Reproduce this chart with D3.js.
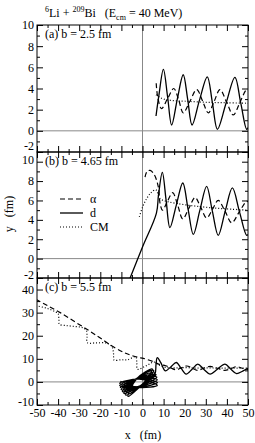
<!DOCTYPE html>
<html>
<head>
<meta charset="utf-8">
<script src="https://cdn.jsdelivr.net/npm/d3@7"></script>
<style>
  body { margin: 0; background: #fff; }
  text { font-family: "Liberation Serif", "Times New Roman", serif; }
</style>
</head>
<body>
<div id="chart"></div>
<script>
// x, y in fm
var alphaA = [[6.5,4.5],[7.2,3.2],[9,2.1],[11.8,3.0],[14.8,4.0],[17.2,2.9],[19.3,1.7],[22.5,2.8],[25.7,3.9],[28.5,2.8],[31.2,1.7],[34,2.8],[36.7,3.9],[39.9,2.7],[43,1.5],[46.2,2.7],[49.4,3.9],[50.5,3.8]];
var deutA = [[6.4,1.4],[7.8,3.4],[9.9,5.8],[11.9,3.2],[13.8,0.55],[16.5,3.0],[19.3,5.3],[21.4,3.0],[23.5,0.55],[27,2.9],[30.7,5.1],[33.1,2.7],[35.5,0.15],[39.6,2.6],[43.8,5.05],[46.6,2.6],[49.4,0.15],[50.5,0.5]];
var cmA = [[6.4,3.4],[8,3.2],[10,3.0],[15,2.85],[20,2.8],[30,2.7],[40,2.65],[50.5,2.6]];

var alphaB = [[1.2,8.4],[2.2,9.0],[3.6,9.1],[5.5,8.7],[7.5,7.4],[8.4,5.6],[9.5,5.0],[11.8,5.9],[14.3,6.8],[16.7,5.5],[19.1,4.1],[22,5.2],[24.9,6.3],[27.6,5.3],[30.4,4.2],[33.2,5.1],[35.9,6.0],[39.1,4.9],[42.3,3.7],[45.8,4.8],[49.4,5.9],[50.5,5.8]];
var deutB = [[-6.6,-2.4],[0,1.2],[6.6,4.7],[7.6,6.6],[9.4,8.9],[11.2,6.0],[13.0,3.2],[16,5.5],[19.1,7.8],[21.6,5.1],[24.1,2.5],[27.2,5.0],[30.4,7.45],[33.1,4.9],[35.9,2.4],[39.2,4.9],[42.6,7.3],[46,4.8],[49.4,2.4],[50.5,2.6]];
var cmB = [[-1.5,4.3],[0,5.3],[2,6.2],[4,6.8],[6.3,7.1],[8.3,6.2],[11.5,5.9],[16,5.7],[22,5.5],[28,5.35],[35,5.2],[42,5.1],[50.5,5.0]];

var alphaC = [[-50.5,35.8],[-45,33],[-39,30],[-32,26],[-25,22],[-20,19],[-14,15.3],[-9,12.8],[-6,11.7],[-2,10.6],[0.4,10.2],[5,8.8],[8,7.6],[11,7.0],[13.5,6.0],[16,5.3],[18.5,6.1],[21,6.9],[23.5,6],[26,5.0],[29,5.9],[32,6.7],[35.5,5.9],[39,5.0],[42,5.8],[44.6,6.6],[47.3,5.9],[50.5,5.2]];
// deuteron in (c): loops near the target (left tip, lower middle, right tip, upper middle), then exit
var deutC = [
  [-10.5,0.3],[-1.93,-2.38],[7,-1.5],[-1.57,1.18],
  [-10.8,-0.6],[-1.81,-2.25],[7.1,-0.3],[-1.89,1.35],
  [-10.8,-1.5],[-1.66,-2.08],[7,0.9],[-2.14,1.48],
  [-10.5,-2.4],[-1.4,-1.9],[6.8,2.1],[-2.3,1.6],
  [-10.1,-3.3],[-1.2,-1.7],[6.4,3.2],[-2.5,1.6],
  [-9.5,-4.2],[-0.94,-1.58],[5.9,4.2],[-2.66,1.58],
  [-8.8,-5.0],[-0.7,-1.48],[5.3,5.0],[-2.8,1.48],
  [-7.9,-5.7],[-0.44,-1.38],[4.6,5.6],[-2.86,1.28],
  [-6.8,-6.3],[-0.2,-1.3],[5.8,3.2],[6.4,7.5],[7.0,10.5],[8.6,8.5],[10.8,4.8],[13.5,6.6],[16,8.4],[18.3,5.9],[20.7,3.4],[23.5,5.5],[26.2,7.7],[29,5.5],[32,3.4],[35.5,5.5],[39.1,7.7],[41.8,5.6],[44.6,3.6],[47.5,4.7],[50.5,6.2]];
var cmC = [[-50.5,33],[-45,31.8],[-41.2,30.3],[-40,29.6],[-39.6,27],[-39.4,25],[-36,24.4],[-32,24],[-28.5,23.5],[-26.6,22.3],[-26.3,19.5],[-26.2,17],[-22,16.9],[-17,16.8],[-14.5,15.3],[-13.7,12],[-13.5,9.5],[-10,9.6],[-7,9.6],[-3.2,10.9],[-2.7,8],[-2.4,5.5],[0.5,6.4],[3,7.6],[5.5,8.6],[8,7.2],[11,6.3],[15,6.1],[20,6.2],[25,6.0],[30,6.1],[35,6.0],[40,6.0],[45,6.0],[50.5,6.0]];

// tick values
var xTickLabels = [-50,-40,-30,-20,-10,0,10,20,30,40,50];
var xMinorTicks = [-45,-35,-25,-15,-5,5,15,25,35,45];
var yTicksAB = [-2,0,2,4,6,8,10];
var yMinorAB = [-1,1,3,5,7,9];
var yTicksC = [-10,0,10,20,30,40];
var yMinorC = [-5,5,15,25,35];

var legendNames = ["\u03b1", "d", "CM"];

var svgWidth = 255;
var svgHeight = 443;
var plotLeft = 37;
var plotRight = 248;

var svg = d3.select("#chart")
  .append("svg")
  .attr("width", svgWidth)
  .attr("height", svgHeight);

var xScale = d3.scaleLinear().domain([-50, 50]).range([plotLeft, plotRight]);

var styles = {
  alpha: {w: 1.2, dash: "5,3"},
  d: {w: 1.3, dash: null},
  cm: {w: 1.2, dash: "1,2"}
};

var panels = [
  {top: 25, bottom: 152, domain: [-2, 10], ticks: yTicksAB, minor: yMinorAB, label: "(a) b = 2.5 fm", alpha: alphaA, d: deutA, cm: cmA},
  {top: 152, bottom: 278, domain: [-2, 11], ticks: yTicksAB, minor: yMinorAB, label: "(b) b = 4.65 fm", alpha: alphaB, d: deutB, cm: cmB},
  {top: 278, bottom: 405, domain: [-10, 45], ticks: yTicksC, minor: yMinorC, label: "(c) b = 5.5 fm", alpha: alphaC, d: deutC, cm: cmC}
];

// vertical x = 0 line through all panels
svg.append("line")
  .attr("x1", xScale(0)).attr("x2", xScale(0))
  .attr("y1", 25).attr("y2", 405)
  .attr("stroke", "#888").attr("stroke-width", 1);

panels.forEach(function(p, i) {
  var yScale = d3.scaleLinear().domain(p.domain).range([p.bottom, p.top]);
  var g = svg.append("g");

  g.append("clipPath").attr("id", "clip" + i)
    .append("rect")
    .attr("x", plotLeft).attr("y", p.top)
    .attr("width", plotRight - plotLeft).attr("height", p.bottom - p.top);

  // y = 0 line
  g.append("line")
    .attr("x1", plotLeft).attr("x2", plotRight)
    .attr("y1", yScale(0)).attr("y2", yScale(0))
    .attr("stroke", "#888").attr("stroke-width", 1);

  var line = d3.line()
    .x(d => xScale(d[0]))
    .y(d => yScale(d[1]))
    .curve(d3.curveCatmullRom.alpha(0.5));

  var plot = g.append("g").attr("clip-path", "url(#clip" + i + ")");
  ["cm", "alpha", "d"].forEach(function(key) {
    plot.append("path")
      .datum(p[key])
      .attr("d", line)
      .attr("fill", "none")
      .attr("stroke", "#000")
      .attr("stroke-width", styles[key].w)
      .attr("stroke-dasharray", styles[key].dash);
  });

  // x ticks, top and bottom, pointing inward
  g.append("g").attr("transform", `translate(0, ${p.top})`)
    .call(d3.axisTop(xScale).tickValues(xTickLabels).tickSize(-6).tickFormat(""));
  g.append("g").attr("transform", `translate(0, ${p.top})`)
    .call(d3.axisTop(xScale).tickValues(xMinorTicks).tickSize(-3).tickFormat(""));
  g.append("g").attr("transform", `translate(0, ${p.bottom})`)
    .call(d3.axisBottom(xScale).tickValues(xTickLabels).tickSize(-6)
      .tickFormat(i == 2 ? (d => String(d)) : ""));
  g.append("g").attr("transform", `translate(0, ${p.bottom})`)
    .call(d3.axisBottom(xScale).tickValues(xMinorTicks).tickSize(-3).tickFormat(""));

  // y ticks, left (with labels) and right
  var leftAxis = g.append("g").attr("transform", `translate(${plotLeft}, 0)`)
    .call(d3.axisLeft(yScale).tickValues(p.ticks).tickSize(-6).tickPadding(3).tickFormat(d => String(d)));
  g.append("g").attr("transform", `translate(${plotLeft}, 0)`)
    .call(d3.axisLeft(yScale).tickValues(p.minor).tickSize(-3).tickFormat(""));
  g.append("g").attr("transform", `translate(${plotRight}, 0)`)
    .call(d3.axisRight(yScale).tickValues(p.ticks).tickSize(-6).tickFormat(""));
  g.append("g").attr("transform", `translate(${plotRight}, 0)`)
    .call(d3.axisRight(yScale).tickValues(p.minor).tickSize(-3).tickFormat(""));

  // labels at panel joins sit a little apart, as in the original
  leftAxis.selectAll(".tick text")
    .attr("y", function(d) {
      if (i == 0 && d == -2) return -6;
      if (i == 1 && d == -2) return -3;
      if (i == 1 && d == 10) return -2;
      if (i == 2 && d == -10) return -3;
      return 0;
    });

  g.selectAll(".domain").remove();
  g.selectAll(".tick line").attr("stroke", "#000");
  g.selectAll(".tick text")
    .attr("font-family", "Liberation Serif, serif")
    .attr("font-size", 12)
    .attr("fill", "#000");

  // frame
  g.append("rect")
    .attr("x", plotLeft).attr("y", p.top)
    .attr("width", plotRight - plotLeft).attr("height", p.bottom - p.top)
    .attr("fill", "none").attr("stroke", "#000").attr("stroke-width", 1);

  g.append("text")
    .attr("x", 45).attr("y", p.top + 13)
    .attr("font-size", 12)
    .text(p.label);

  if (i == 1) {
    var legendY = [199, 213, 227];
    ["alpha", "d", "cm"].forEach(function(key, k) {
      g.append("line")
        .attr("x1", 60).attr("x2", 83)
        .attr("y1", legendY[k]).attr("y2", legendY[k])
        .attr("stroke", "#000")
        .attr("stroke-width", styles[key].w)
        .attr("stroke-dasharray", styles[key].dash);
      g.append("text")
        .attr("x", 90).attr("y", legendY[k] + 3.5)
        .attr("font-size", 12)
        .text(legendNames[k]);
    });
  }
});

// title
var title = svg.append("text")
  .attr("x", 45).attr("y", 17)
  .attr("font-size", 12)
  .style("white-space", "pre");
title.append("tspan").attr("font-size", 8).attr("dy", -5).text("6");
title.append("tspan").attr("dy", 5).text("Li + ");
title.append("tspan").attr("font-size", 8).attr("dy", -5).text("209");
title.append("tspan").attr("dy", 5).text("Bi   (E");
title.append("tspan").attr("font-size", 8).attr("dy", 3).text("cm");
title.append("tspan").attr("dy", -3).text(" = 40 MeV)");

// axis titles
svg.append("text")
  .attr("x", 143).attr("y", 439)
  .attr("text-anchor", "middle")
  .attr("font-size", 12)
  .style("white-space", "pre")
  .text("x   (fm)");

svg.append("text")
  .attr("transform", "translate(13, 214) rotate(-90)")
  .attr("text-anchor", "middle")
  .attr("font-size", 12)
  .style("white-space", "pre")
  .text("y   (fm)");
</script>
</body>
</html>
